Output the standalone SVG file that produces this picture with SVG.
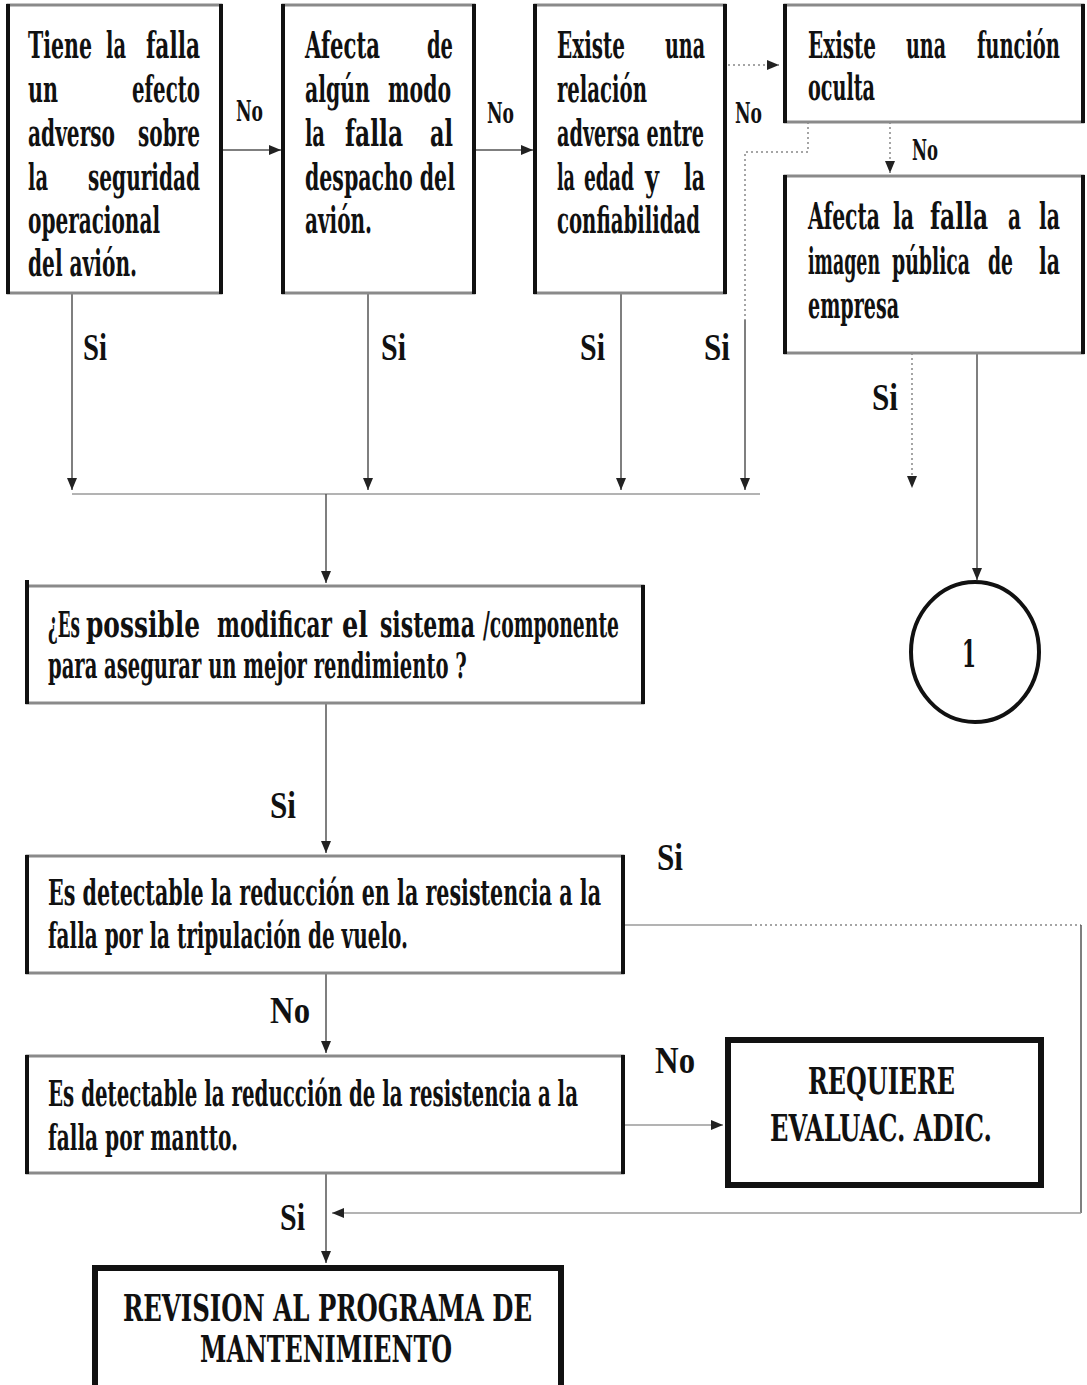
<svg xmlns="http://www.w3.org/2000/svg" width="1087" height="1385" viewBox="0 0 1087 1385">
<style>
.t{font-family:"DejaVu Serif Condensed","DejaVu Serif",serif;font-stretch:condensed;font-weight:bold;font-size:37px;fill:#111}
.m{font-size:36px}
.b{font-size:38px}
.ln{font-family:"DejaVu Serif Condensed","DejaVu Serif",serif;font-weight:bold;font-size:27px;fill:#111}
.ls{font-family:"Liberation Serif",serif;font-weight:bold;font-size:38px;fill:#111}
.edge{fill:none;stroke:#8a8a8a;stroke-width:3}
.side{stroke:#111;stroke-width:4}
.thick{fill:none;stroke:#111;stroke-width:6}
.c{fill:none;stroke:#555;stroke-width:1.5}
.cl{fill:none;stroke:#9a9a9a;stroke-width:1.5}
.cd{fill:none;stroke:#888;stroke-width:1.5;stroke-dasharray:2 3}
</style>
<defs>
<marker id="ah" markerUnits="userSpaceOnUse" markerWidth="12" markerHeight="14" refX="12" refY="5" orient="auto">
<path d="M0,0 L12,5 L0,10 Z" fill="#222"/>
</marker>
</defs>

<g id="connectors">
<path class="c" d="M222,150 H281" marker-end="url(#ah)"/>
<path class="c" d="M474,150 H533" marker-end="url(#ah)"/>
<path class="cd" d="M728,65 H779" marker-end="url(#ah)"/>
<path class="cd" d="M890,122 V173" marker-end="url(#ah)"/>
<path class="cd" d="M808,122 V152 H745 V320"/>
<path class="c" d="M745,320 V490" marker-end="url(#ah)"/>
<path class="c" d="M72,294 V490" marker-end="url(#ah)"/>
<path class="c" d="M368,294 V490" marker-end="url(#ah)"/>
<path class="c" d="M621,294 V490" marker-end="url(#ah)"/>
<path class="cd" d="M912,353 V488" marker-end="url(#ah)"/>
<path class="c" d="M977,353 V580" marker-end="url(#ah)"/>
<path class="cl" d="M72,494 H760"/>
<path class="c" d="M326,494 V583" marker-end="url(#ah)"/>
<path class="c" d="M326,703 V853" marker-end="url(#ah)"/>
<path class="cl" d="M623,925 H750"/>
<path class="cd" d="M750,925 H1081"/>
<path class="c" d="M1081,925 V1213"/>
<path class="cl" d="M1081,1213 H332" marker-end="url(#ah)"/>
<path class="c" d="M326,973 V1053" marker-end="url(#ah)"/>
<path class="cl" d="M623,1125 H723" marker-end="url(#ah)"/>
<path class="c" d="M326,1173 V1263" marker-end="url(#ah)"/>
</g>

<g id="labels">
<text class="ln" x="236" y="121" textLength="27" lengthAdjust="spacingAndGlyphs">No</text>
<text class="ln" x="487" y="123" textLength="27" lengthAdjust="spacingAndGlyphs">No</text>
<text class="ln" x="735" y="123" textLength="27" lengthAdjust="spacingAndGlyphs">No</text>
<text class="ln" x="912" y="160" textLength="26" lengthAdjust="spacingAndGlyphs">No</text>
<text class="ls" x="83" y="360" textLength="24" lengthAdjust="spacingAndGlyphs">Si</text>
<text class="ls" x="381" y="360" textLength="25" lengthAdjust="spacingAndGlyphs">Si</text>
<text class="ls" x="580" y="360" textLength="25" lengthAdjust="spacingAndGlyphs">Si</text>
<text class="ls" x="704" y="360" textLength="26" lengthAdjust="spacingAndGlyphs">Si</text>
<text class="ls" x="872" y="410" textLength="26" lengthAdjust="spacingAndGlyphs">Si</text>
<text class="ls" x="270" y="818" textLength="26" lengthAdjust="spacingAndGlyphs">Si</text>
<text class="ls" x="657" y="870" textLength="26" lengthAdjust="spacingAndGlyphs">Si</text>
<text class="ls" x="270" y="1023" textLength="40" lengthAdjust="spacingAndGlyphs">No</text>
<text class="ls" x="655" y="1073" textLength="40" lengthAdjust="spacingAndGlyphs">No</text>
<text class="ls" x="280" y="1230" textLength="25" lengthAdjust="spacingAndGlyphs">Si</text>
</g>

<g id="n1">
<rect class="edge" x="8" y="5" width="213" height="288"/>
<line class="side" x1="8" y1="4" x2="8" y2="294"/>
<line class="side" x1="221" y1="4" x2="221" y2="294"/>
<g transform="scale(0.6,1)">
<text class="t" x="46.7" y="58" textLength="106.7" lengthAdjust="spacingAndGlyphs">Tiene</text>
<text class="t" x="176.7" y="58" textLength="33.3" lengthAdjust="spacingAndGlyphs">la</text>
<text class="t" x="243.3" y="58" textLength="90" lengthAdjust="spacingAndGlyphs">falla</text>
<text class="t" x="46.7" y="102" textLength="50" lengthAdjust="spacingAndGlyphs">un</text>
<text class="t" x="220" y="102" textLength="113.3" lengthAdjust="spacingAndGlyphs">efecto</text>
<text class="t" x="46.7" y="146" textLength="145" lengthAdjust="spacingAndGlyphs">adverso</text>
<text class="t" x="230" y="146" textLength="103.3" lengthAdjust="spacingAndGlyphs">sobre</text>
<text class="t" x="46.7" y="190" textLength="33.3" lengthAdjust="spacingAndGlyphs">la</text>
<text class="t" x="146.7" y="190" textLength="186.7" lengthAdjust="spacingAndGlyphs">seguridad</text>
<text class="t" x="46.7" y="233" textLength="220" lengthAdjust="spacingAndGlyphs">operacional</text>
<text class="t" x="46.7" y="276" textLength="181.7" lengthAdjust="spacingAndGlyphs">del avión.</text>
</g>
</g>

<g id="n2">
<rect class="edge" x="283" y="5" width="191" height="288"/>
<line class="side" x1="283" y1="4" x2="283" y2="294"/>
<line class="side" x1="474" y1="4" x2="474" y2="294"/>
<g transform="scale(0.6,1)">
<text class="t" x="508.3" y="58" textLength="125" lengthAdjust="spacingAndGlyphs">Afecta</text>
<text class="t" x="711.7" y="58" textLength="43.3" lengthAdjust="spacingAndGlyphs">de</text>
<text class="t" x="508.3" y="102" textLength="108.3" lengthAdjust="spacingAndGlyphs">algún</text>
<text class="t" x="646.7" y="102" textLength="105" lengthAdjust="spacingAndGlyphs">modo</text>
<text class="t" x="508.3" y="146" textLength="33.3" lengthAdjust="spacingAndGlyphs">la</text>
<text class="t" x="575" y="146" textLength="96.7" lengthAdjust="spacingAndGlyphs">falla</text>
<text class="t" x="716.7" y="146" textLength="38.3" lengthAdjust="spacingAndGlyphs">al</text>
<text class="t" x="508.3" y="190" textLength="250" lengthAdjust="spacingAndGlyphs">despacho del</text>
<text class="t" x="508.3" y="233" textLength="111.7" lengthAdjust="spacingAndGlyphs">avión.</text>
</g>
</g>

<g id="n3">
<rect class="edge" x="535" y="5" width="190" height="288"/>
<line class="side" x1="535" y1="4" x2="535" y2="294"/>
<line class="side" x1="725" y1="4" x2="725" y2="294"/>
<g transform="scale(0.6,1)">
<text class="t" x="928.3" y="58" textLength="113.3" lengthAdjust="spacingAndGlyphs">Existe</text>
<text class="t" x="1108.3" y="58" textLength="66.7" lengthAdjust="spacingAndGlyphs">una</text>
<text class="t" x="928.3" y="102" textLength="150" lengthAdjust="spacingAndGlyphs">relación</text>
<text class="t" x="928.3" y="146" textLength="245" lengthAdjust="spacingAndGlyphs">adversa entre</text>
<text class="t" x="928.3" y="190" textLength="30" lengthAdjust="spacingAndGlyphs">la</text>
<text class="t" x="973.3" y="190" textLength="83.3" lengthAdjust="spacingAndGlyphs">edad</text>
<text class="t" x="1075" y="190" textLength="23.3" lengthAdjust="spacingAndGlyphs">y</text>
<text class="t" x="1140" y="190" textLength="35" lengthAdjust="spacingAndGlyphs">la</text>
<text class="t" x="928.3" y="233" textLength="238.3" lengthAdjust="spacingAndGlyphs">confiabilidad</text>
</g>
</g>

<g id="n4">
<rect class="edge" x="785" y="5" width="298" height="117"/>
<line class="side" x1="785" y1="4" x2="785" y2="123"/>
<line class="side" x1="1083" y1="4" x2="1083" y2="123"/>
<g transform="scale(0.6,1)">
<text class="t" x="1346.7" y="58" textLength="113.3" lengthAdjust="spacingAndGlyphs">Existe</text>
<text class="t" x="1510" y="58" textLength="66.7" lengthAdjust="spacingAndGlyphs">una</text>
<text class="t" x="1628.3" y="58" textLength="138.3" lengthAdjust="spacingAndGlyphs">función</text>
<text class="t" x="1346.7" y="100" textLength="111.7" lengthAdjust="spacingAndGlyphs">oculta</text>
</g>
</g>

<g id="n5">
<rect class="edge" x="785" y="176" width="298" height="177"/>
<line class="side" x1="785" y1="175" x2="785" y2="354"/>
<line class="side" x1="1083" y1="175" x2="1083" y2="354"/>
<g transform="scale(0.6,1)">
<text class="t" x="1346.7" y="229" textLength="120" lengthAdjust="spacingAndGlyphs">Afecta</text>
<text class="t" x="1488.3" y="229" textLength="35" lengthAdjust="spacingAndGlyphs">la</text>
<text class="t" x="1550" y="229" textLength="96.7" lengthAdjust="spacingAndGlyphs">falla</text>
<text class="t" x="1680" y="229" textLength="21.7" lengthAdjust="spacingAndGlyphs">a</text>
<text class="t" x="1731.7" y="229" textLength="35" lengthAdjust="spacingAndGlyphs">la</text>
<text class="t" x="1346.7" y="274" textLength="120" lengthAdjust="spacingAndGlyphs">imagen</text>
<text class="t" x="1486.7" y="274" textLength="130" lengthAdjust="spacingAndGlyphs">pública</text>
<text class="t" x="1646.7" y="274" textLength="41.7" lengthAdjust="spacingAndGlyphs">de</text>
<text class="t" x="1731.7" y="274" textLength="35" lengthAdjust="spacingAndGlyphs">la</text>
<text class="t" x="1346.7" y="318" textLength="151.7" lengthAdjust="spacingAndGlyphs">empresa</text>
</g>
</g>

<g id="n_circle">
<ellipse cx="975" cy="652" rx="64" ry="70" fill="none" stroke="#111" stroke-width="4"/>
<g transform="scale(0.6,1)">
<text class="t" x="1603.3" y="667" textLength="23.3" lengthAdjust="spacingAndGlyphs">1</text>
</g>
</g>

<g id="n6">
<rect class="edge" x="27" y="586" width="616" height="117"/>
<line class="side" x1="27" y1="580" x2="27" y2="704"/>
<line class="side" x1="643" y1="585" x2="643" y2="704"/>
<g transform="scale(0.6,1)">
<text class="t m" x="80" y="637" textLength="53.3" lengthAdjust="spacingAndGlyphs">¿Es</text>
<text class="t m" x="143.3" y="637" textLength="190" lengthAdjust="spacingAndGlyphs">possible</text>
<text class="t m" x="361.7" y="637" textLength="191.7" lengthAdjust="spacingAndGlyphs">modificar</text>
<text class="t m" x="570" y="637" textLength="43.3" lengthAdjust="spacingAndGlyphs">el</text>
<text class="t m" x="633.3" y="637" textLength="158.3" lengthAdjust="spacingAndGlyphs">sistema</text>
<text class="t m" x="805" y="637" textLength="226.7" lengthAdjust="spacingAndGlyphs">/componente</text>
<text class="t m" x="80" y="678" textLength="698" lengthAdjust="spacingAndGlyphs">para asegurar un mejor rendimiento ?</text>
</g>
</g>

<g id="n7">
<rect class="edge" x="27" y="856" width="596" height="117"/>
<line class="side" x1="27" y1="855" x2="27" y2="974"/>
<line class="side" x1="623" y1="855" x2="623" y2="974"/>
<g transform="scale(0.6,1)">
<text class="t m" x="80" y="905" textLength="921.7" lengthAdjust="spacingAndGlyphs">Es detectable la reducción en la resistencia a la</text>
<text class="t m" x="80" y="948" textLength="600" lengthAdjust="spacingAndGlyphs">falla por la tripulación de vuelo.</text>
</g>
</g>

<g id="n8">
<rect class="edge" x="27" y="1056" width="596" height="117"/>
<line class="side" x1="27" y1="1055" x2="27" y2="1174"/>
<line class="side" x1="623" y1="1055" x2="623" y2="1174"/>
<g transform="scale(0.6,1)">
<text class="t m" x="80" y="1106" textLength="883.3" lengthAdjust="spacingAndGlyphs">Es detectable la reducción de la resistencia a la</text>
<text class="t m" x="80" y="1150" textLength="316.7" lengthAdjust="spacingAndGlyphs">falla por mantto.</text>
</g>
</g>

<g id="n9">
<rect class="thick" x="728" y="1040" width="313" height="145"/>
<g transform="scale(0.6,1)">
<text class="t b" x="1346.7" y="1094" textLength="245" lengthAdjust="spacingAndGlyphs">REQUIERE</text>
<text class="t b" x="1283.3" y="1141" textLength="370" lengthAdjust="spacingAndGlyphs">EVALUAC. ADIC.</text>
</g>
</g>

<g id="n10">
<rect class="thick" x="95" y="1268" width="466" height="122"/>
<g transform="scale(0.6,1)">
<text class="t b" x="205" y="1321" textLength="681.7" lengthAdjust="spacingAndGlyphs">REVISION AL PROGRAMA DE</text>
<text class="t b" x="333.3" y="1362" textLength="420" lengthAdjust="spacingAndGlyphs">MANTENIMIENTO</text>
</g>
</g>
</svg>
